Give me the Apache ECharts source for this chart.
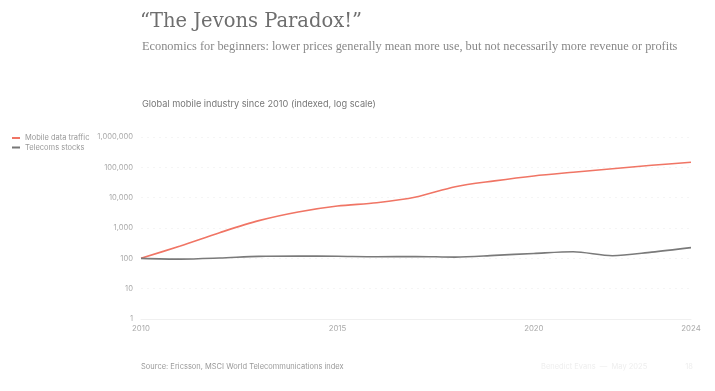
<!DOCTYPE html>
<html><head><meta charset="utf-8">
<script src="https://cdn.jsdelivr.net/npm/echarts@6/dist/echarts.min.js"></script>
<style>html,body{margin:0;padding:0;background:#fff}#c{width:715px;height:391px}</style>
</head><body><div id="c"></div>
<script>
const years = [2010,2011,2012,2013,2014,2015,2016,2017,2018,2019,2020,2021,2022,2023,2024];
const mobileData = [100,256,700,1750,3380,5300,6800,10500,23000,35700,52000,69000,90000,117000,147000];
const telecomStocks = [100,94,102,116,119,117,113,115,110,125,145,165,122,160,225];
const xTickLabels = [2010,2015,2020,2024];

const chart = echarts.init(document.getElementById('c'));
chart.setOption({
  animation:false,
  backgroundColor:'#fff',
  title:[
    {text:'\u201cThe Jevons Paradox!\u201d', left:140, top:12, padding:0, textStyle:{fontFamily:'DejaVu Serif', fontWeight:'normal', fontSize:19.5, color:'#6e6e6e'}},
    {text:'Economics for beginners: lower prices generally mean more use, but not necessarily more revenue or profits', left:142, top:41, padding:0, textStyle:{fontFamily:'Liberation Serif', fontWeight:'normal', fontSize:12.35, color:'#888'}},
    {text:'Global mobile industry since 2010 (indexed, log scale)', left:142, top:100, padding:0, textStyle:{fontFamily:'Inter', fontWeight:'normal', fontSize:9.2, color:'#777'}},
    {text:'Source: Ericsson, MSCI World Telecommunications index', left:141, top:363, padding:0, textStyle:{fontFamily:'Inter', fontWeight:'normal', fontSize:7.5, color:'#999'}},
    {text:'Benedict Evans  \u2014  May 2025                  18', left:541, top:363, padding:0, textStyle:{fontFamily:'Inter', fontWeight:'normal', fontSize:7.5, color:'#eeeeee'}}
  ],
  legend:{
    orient:'vertical', left:12, top:134, itemWidth:8, itemHeight:2, itemGap:1.5, padding:0,
    icon:'rect',
    textStyle:{fontFamily:'Inter', fontSize:7.5, color:'#999'},
    data:['Mobile data traffic','Telecoms stocks']
  },
  grid:{left:141, right:24, top:137, bottom:72},
  xAxis:{
    type:'value', min:2010, max:2024,
    axisLine:{show:true, lineStyle:{color:'#f0f0f0', width:1}},
    axisTick:{show:false},
    splitLine:{show:false},
    axisLabel:{customValues:xTickLabels, formatter:v=>String(v), fontFamily:'Inter', fontSize:7.8, color:'#aaa', margin:6}
  },
  yAxis:{
    type:'log', logBase:10, min:1, max:1000000,
    axisLine:{show:false}, axisTick:{show:false},
    splitLine:{show:true, lineStyle:{color:'#f5f5f5', type:[2,4], width:1}},
    axisLabel:{formatter:v=>Number(v).toLocaleString('en-US'), fontFamily:'Inter', fontSize:7.6, color:'#aaa', margin:8}
  },
  series:[
    {name:'Mobile data traffic', type:'line', smooth:0.3, showSymbol:false, color:'#f07565', lineStyle:{width:1.6, color:'#f07565'},
     data: years.map((y,i)=>[y, mobileData[i]])},
    {name:'Telecoms stocks', type:'line', smooth:0.3, showSymbol:false, color:'#777', lineStyle:{width:1.6, color:'#7a7a7a'},
     data: years.map((y,i)=>[y, telecomStocks[i]])}
  ]
});
</script></body></html>
